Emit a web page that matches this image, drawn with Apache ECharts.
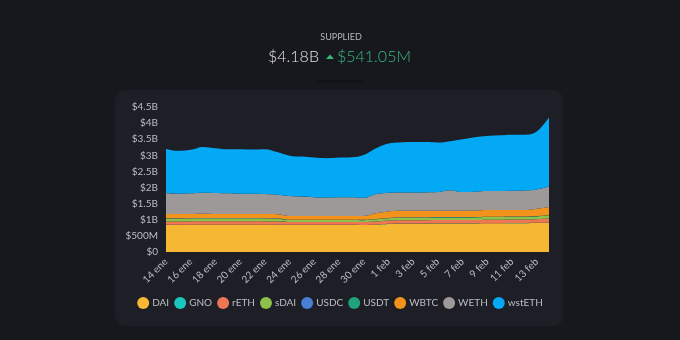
<!DOCTYPE html>
<html>
<head>
<meta charset="utf-8">
<style>
  html, body { margin: 0; padding: 0; background: #17181e; }
  #chart { width: 680px; height: 340px; }
</style>
<script src="https://cdn.jsdelivr.net/npm/echarts@6/dist/echarts.min.js"></script>
</head>
<body>
<div id="chart"></div>
<script>
// Daily supplied amounts per asset, in billions of USD
const dates = ['14 ene','15 ene','16 ene','17 ene','18 ene','19 ene','20 ene','21 ene','22 ene','23 ene',
  '24 ene','25 ene','26 ene','27 ene','28 ene','29 ene','30 ene','31 ene','1 feb','2 feb','3 feb','4 feb',
  '5 feb','6 feb','7 feb','8 feb','9 feb','10 feb','11 feb','12 feb','13 feb','14 feb'];

const DAI    = [0.84,0.84,0.845,0.85,0.85,0.85,0.85,0.85,0.845,0.84,0.84,0.84,0.84,0.84,0.84,0.84,0.835,0.85,0.87,0.88,0.88,0.88,0.885,0.885,0.885,0.885,0.89,0.89,0.895,0.895,0.90,0.91];
const GNO    = [0.004,0.004,0.004,0.004,0.004,0.004,0.004,0.004,0.004,0.004,0.004,0.004,0.004,0.004,0.004,0.004,0.004,0.004,0.004,0.004,0.004,0.004,0.004,0.004,0.004,0.004,0.004,0.004,0.004,0.004,0.004,0.004];
const rETH   = [0.10,0.10,0.10,0.10,0.10,0.10,0.10,0.10,0.10,0.10,0.09,0.09,0.09,0.09,0.09,0.09,0.09,0.09,0.10,0.105,0.105,0.105,0.105,0.105,0.105,0.105,0.11,0.11,0.11,0.11,0.115,0.125];
const sDAI   = [0.09,0.09,0.09,0.09,0.09,0.09,0.09,0.09,0.09,0.09,0.06,0.06,0.06,0.06,0.06,0.06,0.06,0.07,0.075,0.08,0.08,0.08,0.08,0.08,0.08,0.08,0.08,0.08,0.08,0.08,0.085,0.09];
const USDC   = [0.008,0.008,0.008,0.008,0.008,0.008,0.008,0.008,0.008,0.008,0.006,0.006,0.006,0.006,0.006,0.006,0.006,0.006,0.006,0.006,0.006,0.006,0.006,0.006,0.006,0.006,0.006,0.006,0.006,0.006,0.006,0.006];
const USDT   = [0.004,0.004,0.004,0.004,0.004,0.004,0.004,0.004,0.004,0.004,0.004,0.004,0.004,0.004,0.004,0.004,0.004,0.004,0.004,0.004,0.004,0.004,0.004,0.004,0.004,0.004,0.004,0.004,0.004,0.004,0.004,0.004];
const WBTC   = [0.134,0.134,0.129,0.129,0.124,0.124,0.124,0.124,0.129,0.129,0.116,0.116,0.116,0.116,0.116,0.116,0.121,0.176,0.201,0.201,0.201,0.201,0.196,0.196,0.196,0.196,0.206,0.206,0.201,0.201,0.226,0.261];
const WETH   = [0.64,0.63,0.64,0.655,0.65,0.64,0.63,0.63,0.62,0.605,0.62,0.60,0.58,0.57,0.58,0.58,0.56,0.60,0.58,0.57,0.57,0.57,0.58,0.64,0.58,0.59,0.59,0.59,0.60,0.61,0.60,0.63];
const wstETH = [1.38,1.33,1.35,1.42,1.39,1.37,1.38,1.37,1.39,1.32,1.25,1.24,1.23,1.22,1.23,1.24,1.33,1.42,1.53,1.55,1.56,1.56,1.54,1.52,1.64,1.69,1.71,1.73,1.74,1.73,1.80,2.15];

const yTicks = { min: 0, max: 4.5, interval: 0.5 };
const changeText = '$541.05M';

const assets = [
  { name: 'DAI',    data: DAI,    color: '#f6b733' },
  { name: 'GNO',    data: GNO,    color: '#19c6bd' },
  { name: 'rETH',   data: rETH,   color: '#ef7652' },
  { name: 'sDAI',   data: sDAI,   color: '#8cc24b' },
  { name: 'USDC',   data: USDC,   color: '#4a7fd6' },
  { name: 'USDT',   data: USDT,   color: '#22a27b' },
  { name: 'WBTC',   data: WBTC,   color: '#f3931c' },
  { name: 'WETH',   data: WETH,   color: '#9d9999' },
  { name: 'wstETH', data: wstETH, color: '#03a9f4' }
];

const last = dates.length - 1;
const total = assets.reduce((s, a) => s + a.data[last], 0);
const totalText = '$' + total.toFixed(2) + 'B';

function money(v) {
  if (v === 0) return '$0';
  if (v < 1) return '$' + Math.round(v * 1000) + 'M';
  return '$' + v + 'B';
}

const FONT = 'Lato, "Open Sans", sans-serif';
const chart = echarts.init(document.getElementById('chart'), null, { renderer: 'canvas' });

chart.setOption({
  backgroundColor: '#17181e',
  animation: false,
  graphic: [
    { type: 'rect', z: -10, shape: { x: 115, y: 90, width: 448, height: 236, r: 10 },
      style: { fill: '#1d1e26' } },
    { type: 'rect', z: -10, shape: { x: 316, y: 80.5, width: 48, height: 1.5, r: 1 },
      style: { fill: 'rgba(0,0,0,0.22)', shadowBlur: 4, shadowColor: 'rgba(0,0,0,0.35)' } },
    { type: 'text', x: 341, y: 37,
      style: { text: 'SUPPLIED', fill: '#b4b4bc', font: '9px ' + FONT, textAlign: 'center', textVerticalAlign: 'middle' } },
    { type: 'text', x: 319, y: 57,
      style: { text: totalText, fill: '#e2e2e6', font: '300 16px ' + FONT, textAlign: 'right', textVerticalAlign: 'middle' } },
    { type: 'polygon', shape: { points: [[326, 59], [334, 59], [330, 54.5]] },
      style: { fill: '#38b97a' } },
    { type: 'text', x: 337, y: 57,
      style: { text: changeText, fill: '#38b97a', font: '300 16px ' + FONT, textAlign: 'left', textVerticalAlign: 'middle' } }
  ],
  grid: { left: 166, right: 131, top: 107, bottom: 88 },
  legend: {
    top: 292,
    left: 'center',
    icon: 'circle',
    itemWidth: 12,
    itemHeight: 12,
    itemGap: 5,
    textStyle: { color: '#bdbdc4', fontSize: 10, fontFamily: FONT, padding: [0, 0, 0, -2] },
    data: assets.map(a => a.name)
  },
  xAxis: {
    type: 'category',
    data: dates,
    boundaryGap: false,
    axisLine: { show: false },
    axisTick: { show: false },
    axisLabel: { color: '#bdbdc4', fontSize: 10, fontFamily: FONT, rotate: 45, interval: 1, margin: 8 },
    splitLine: { show: false }
  },
  yAxis: {
    type: 'value',
    min: yTicks.min,
    max: yTicks.max,
    interval: yTicks.interval,
    axisLine: { show: false },
    axisTick: { show: false },
    splitLine: { show: false },
    axisLabel: { color: '#bdbdc4', fontSize: 10, fontFamily: FONT, margin: 8, formatter: money }
  },
  series: assets.map(a => ({
    name: a.name,
    type: 'line',
    stack: 'supplied',
    data: a.data,
    smooth: 0.4,
    symbol: 'none',
    lineStyle: { width: 0 },
    areaStyle: { color: a.color, opacity: 1 },
    itemStyle: { color: a.color },
    emphasis: { disabled: true }
  }))
});
</script>
</body>
</html>
